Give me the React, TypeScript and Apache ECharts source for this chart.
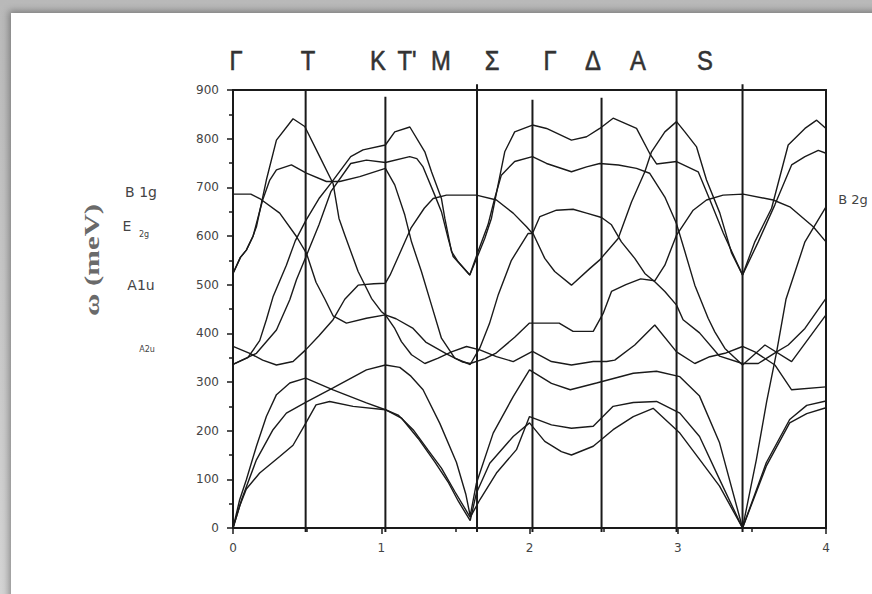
import React, { useEffect, useRef } from "react";
import * as echarts from "echarts";

// High-symmetry path positions (x) and where their vertical markers end (y)
const symPointsX = [0.49, 1.028, 1.646, 2.02, 2.486, 2.992, 3.437];
const symLineTop = [900, 886, 912, 880, 884, 900, 912];

// Labels above the plot
const topLabels = ["Γ", "T", "K", "T'", "M", "Σ", "Γ", "Δ", "A", "S"];
const topLabelPx = [236, 308, 378, 407, 441, 492, 550, 593, 638, 705];

// Mode labels beside the plot
const modeLabels = ["B 1g", "E", "2g", "A1u", "A2u", "B 2g"];

// Phonon branches, [q, ω (meV)]
const band1 = [
  [0, 0], [0.045, 45], [0.09, 80], [0.18, 113], [0.315, 147], [0.405, 170], [0.49, 215], [0.56, 253],
  [0.652, 260], [0.81, 250], [1.028, 243], [1.136, 226], [1.249, 184], [1.361, 136], [1.45, 95],
  [1.52, 55], [1.6, 15], [1.642, 72], [1.732, 133], [1.89, 188], [2.0, 216], [2.103, 178],
  [2.215, 157], [2.283, 150], [2.43, 168], [2.564, 202], [2.7, 229], [2.834, 246], [3.014, 195],
  [3.147, 141], [3.282, 86], [3.437, 0], [3.597, 127], [3.755, 216], [3.87, 235], [4.0, 247],
];
const band2 = [
  [0, 0], [0.045, 58], [0.09, 99], [0.158, 168], [0.225, 229], [0.293, 274], [0.383, 298], [0.49, 308],
  [0.675, 284], [0.9, 257], [1.028, 243], [1.114, 232], [1.215, 202], [1.316, 160], [1.406, 123],
  [1.496, 75], [1.6, 22], [1.665, 58], [1.777, 113], [1.912, 161], [2.0, 229], [2.148, 212],
  [2.283, 205], [2.43, 209], [2.564, 250], [2.7, 258], [2.857, 260], [3.014, 236], [3.147, 188],
  [3.282, 100], [3.437, 0], [3.597, 134], [3.755, 223], [3.87, 252], [4.0, 261],
];
const band3 = [
  [0, 0], [0.06, 60], [0.158, 140], [0.27, 202], [0.36, 236], [0.49, 258], [0.675, 288], [0.9, 325],
  [1.028, 335], [1.125, 330], [1.2, 312], [1.282, 284], [1.395, 215], [1.507, 135], [1.57, 70],
  [1.6, 25], [1.642, 92], [1.755, 195], [1.89, 270], [2.0, 325], [2.148, 297], [2.275, 284],
  [2.452, 298], [2.7, 318], [2.857, 322], [3.014, 311], [3.147, 271], [3.282, 175], [3.437, 0],
  [3.53, 140], [3.6, 260], [3.667, 362], [3.73, 470], [3.858, 588], [4.0, 660],
];
const band4 = [
  [0, 373], [0.113, 359], [0.2, 345], [0.293, 335], [0.405, 342], [0.49, 366], [0.58, 395], [0.675, 428],
  [0.754, 470], [0.844, 499], [0.95, 502], [1.028, 503], [1.06, 520], [1.12, 561], [1.2, 616],
  [1.29, 657], [1.35, 677], [1.44, 684], [1.642, 684], [1.777, 674], [1.89, 647], [1.98, 619],
  [2.02, 605], [2.07, 640], [2.182, 653], [2.294, 655], [2.385, 647], [2.486, 638], [2.553, 623],
  [2.62, 588], [2.71, 554], [2.778, 523], [2.845, 506], [2.913, 486], [2.992, 458], [3.036, 428],
  [3.147, 401], [3.282, 353], [3.437, 338], [3.543, 338], [3.667, 362], [3.745, 376], [3.858, 410],
  [4.0, 472],
];
const band5 = [
  [0, 336], [0.1, 350], [0.18, 385], [0.225, 428], [0.27, 475], [0.36, 540], [0.42, 590], [0.49, 631],
  [0.58, 677], [0.66, 708], [0.794, 763], [0.877, 777], [1.028, 787], [1.091, 814], [1.193, 824],
  [1.294, 773], [1.339, 732], [1.406, 677], [1.429, 636], [1.474, 568], [1.519, 547], [1.597, 520],
  [1.653, 561], [1.698, 595], [1.743, 636], [1.788, 705], [1.833, 773], [1.9, 814], [2.02, 828],
  [2.115, 821], [2.283, 797], [2.385, 804], [2.474, 821], [2.564, 842], [2.722, 821], [2.81, 770],
  [2.857, 748], [2.992, 753], [3.138, 732], [3.217, 674], [3.307, 606], [3.437, 520], [3.543, 588],
  [3.655, 664], [3.768, 746], [3.858, 763], [3.948, 776], [4.0, 770],
];
const band6 = [
  [0, 336], [0.158, 359], [0.293, 407], [0.383, 469], [0.428, 510], [0.49, 556], [0.58, 623],
  [0.66, 691], [0.794, 749], [0.9, 756], [1.028, 751], [1.192, 763], [1.24, 759], [1.282, 742],
  [1.361, 684], [1.406, 650], [1.451, 595], [1.485, 558], [1.597, 520], [1.653, 568], [1.72, 623],
  [1.765, 677], [1.81, 725], [1.9, 753], [2.02, 763], [2.115, 749], [2.283, 732], [2.385, 742],
  [2.474, 749], [2.6, 746], [2.722, 739], [2.81, 729], [2.913, 680], [2.992, 625], [3.048, 568],
  [3.115, 499], [3.205, 431], [3.25, 403], [3.318, 369], [3.437, 335], [3.588, 376], [3.768, 342],
  [4.0, 438],
];
const band7 = [
  [0, 523], [0.05, 556], [0.09, 571], [0.135, 600], [0.158, 619], [0.225, 715], [0.293, 797],
  [0.405, 841], [0.484, 825], [0.585, 763], [0.675, 708], [0.715, 636], [0.754, 602], [0.844, 527],
  [0.934, 472], [1.0, 445], [1.028, 438], [1.091, 410], [1.136, 383], [1.204, 356], [1.294, 338],
  [1.384, 349], [1.474, 362], [1.575, 373], [1.665, 366], [1.777, 352], [1.89, 342], [2.02, 363],
  [2.148, 342], [2.283, 335], [2.43, 342], [2.52, 342], [2.575, 345], [2.71, 376], [2.845, 417],
  [2.992, 362], [3.115, 338], [3.216, 352], [3.318, 359], [3.437, 373], [3.52, 362], [3.655, 335],
  [3.768, 284], [4.0, 290],
];
const band8 = [
  [0, 686], [0.12, 686], [0.18, 677], [0.315, 647], [0.428, 599], [0.495, 565], [0.56, 505],
  [0.62, 470], [0.675, 436], [0.765, 421], [0.9, 431], [1.028, 438], [1.1, 430], [1.215, 410],
  [1.3, 382], [1.44, 358], [1.55, 341], [1.6, 338], [1.7, 348], [1.777, 360], [1.9, 392], [2.0, 421],
  [2.2, 421], [2.294, 404], [2.43, 404], [2.497, 441], [2.553, 486], [2.65, 500], [2.75, 512],
  [2.845, 508], [2.913, 540], [2.992, 602], [3.104, 653], [3.194, 674], [3.306, 684], [3.441, 686],
  [3.644, 674], [3.756, 660], [3.914, 619], [4.0, 588],
];
const band9 = [
  [0, 523], [0.05, 556], [0.09, 571], [0.135, 599], [0.2, 674], [0.248, 715], [0.293, 736],
  [0.394, 746], [0.495, 729], [0.63, 712], [0.72, 712], [0.855, 722], [1.028, 739], [1.091, 705],
  [1.159, 643], [1.204, 588], [1.271, 527], [1.339, 458], [1.406, 390], [1.496, 349], [1.6, 336],
  [1.665, 370], [1.73, 420], [1.79, 480], [1.878, 550], [1.99, 605], [2.024, 605], [2.103, 554],
  [2.17, 527], [2.283, 499], [2.406, 533], [2.474, 551], [2.598, 595], [2.688, 670], [2.778, 732],
  [2.823, 773], [2.913, 814], [2.992, 835], [3.048, 814], [3.127, 783], [3.194, 715], [3.284, 647],
  [3.363, 565], [3.437, 520], [3.52, 588], [3.633, 657], [3.745, 787], [3.858, 821], [3.937, 838],
  [4.0, 821],
];
const bands = [band1, band2, band3, band4, band5, band6, band7, band8, band9];

export default function App() {
  const ref = useRef<HTMLDivElement>(null);
  useEffect(() => {
    if (!ref.current) return;
    const chart = echarts.init(ref.current, undefined, { renderer: "svg" });
    const ink = "#1a1a1a";
    const labelFont = '"DejaVu Sans", Arial, sans-serif';
    const series: any[] = bands.map((b, i) => ({
      type: "line",
      name: "band" + (i + 1),
      data: b,
      symbol: "none",
      silent: true,
      lineStyle: { color: ink, width: 1.4 },
    }));
    symPointsX.forEach((x, i) => {
      series.push({
        type: "line",
        data: [[x, -8], [x, symLineTop[i]]],
        symbol: "none",
        silent: true,
        clip: false,
        lineStyle: { color: ink, width: 2 },
      });
    });
    const graphic: any[] = [];
    topLabels.forEach((t, i) => {
      graphic.push({
        type: "text",
        x: topLabelPx[i],
        y: 60,
        scaleX: 0.85,
        style: {
          text: t, fill: "#333", font: '28px "Liberation Sans", Arial, sans-serif',
          stroke: "#333", lineWidth: 0.6,
          align: "center", verticalAlign: "middle", textAlign: "center", textVerticalAlign: "middle",
        },
      });
    });
    const side = [
      { t: modeLabels[0], x: 141, y: 192, s: 14 },
      { t: modeLabels[1], x: 127, y: 226, s: 14 },
      { t: modeLabels[2], x: 144, y: 234, s: 8 },
      { t: modeLabels[3], x: 141, y: 285, s: 14 },
      { t: modeLabels[4], x: 147, y: 349, s: 8 },
      { t: modeLabels[5], x: 853, y: 199, s: 13 },
    ];
    side.forEach((o) => {
      graphic.push({
        type: "text", x: o.x, y: o.y,
        style: {
          text: o.t, fill: "#444", font: o.s + "px " + labelFont,
          align: "center", verticalAlign: "middle", textAlign: "center", textVerticalAlign: "middle",
        },
      });
    });
    graphic.push({
      type: "text", x: 92, y: 260, rotation: Math.PI / 2, scaleX: 1.4,
      style: {
        text: "ω (meV)", fill: "#6a6a6a", font: 'bold 22px "Liberation Serif", "DejaVu Serif", serif',
        align: "center", verticalAlign: "middle", textAlign: "center", textVerticalAlign: "middle",
      },
    });
    chart.setOption({
      animation: false,
      grid: { left: 233, top: 90, width: 593, height: 438, show: true, borderColor: ink, borderWidth: 2 },
      xAxis: {
        type: "value", min: 0, max: 4, interval: 1,
        axisLine: { lineStyle: { color: ink, width: 2 } },
        axisTick: { show: true, length: 6, lineStyle: { color: ink, width: 1.5 } },
        minorTick: { show: true, splitNumber: 2, length: 4, lineStyle: { color: ink, width: 1.5 } },
        splitLine: { show: false },
        axisLabel: { color: "#444", fontSize: 12, fontFamily: labelFont, margin: 14 },
      },
      yAxis: {
        type: "value", min: 0, max: 900, interval: 100,
        axisLine: { lineStyle: { color: ink, width: 2 } },
        axisTick: { show: true, length: 6, lineStyle: { color: ink, width: 1.5 } },
        minorTick: { show: true, splitNumber: 2, length: 4, lineStyle: { color: ink, width: 1.5 } },
        splitLine: { show: false },
        axisLabel: { color: "#444", fontSize: 12, fontFamily: labelFont, margin: 14 },
      },
      graphic,
      series,
    });
    return () => chart.dispose();
  }, []);
  return (
    <div style={{ position: "absolute", left: 0, top: 0, width: 872, height: 594, background: "linear-gradient(#b9b9b9, #d4d4d4)", overflow: "hidden" }}>
      <div style={{ position: "absolute", left: 11, top: 13, right: -10, bottom: -10, background: "#fff", boxShadow: "0 0 7px 2px rgba(0,0,0,0.35)" }} />
      <div ref={ref} style={{ position: "absolute", left: 0, top: 0, width: 872, height: 594 }} />
    </div>
  );
}
